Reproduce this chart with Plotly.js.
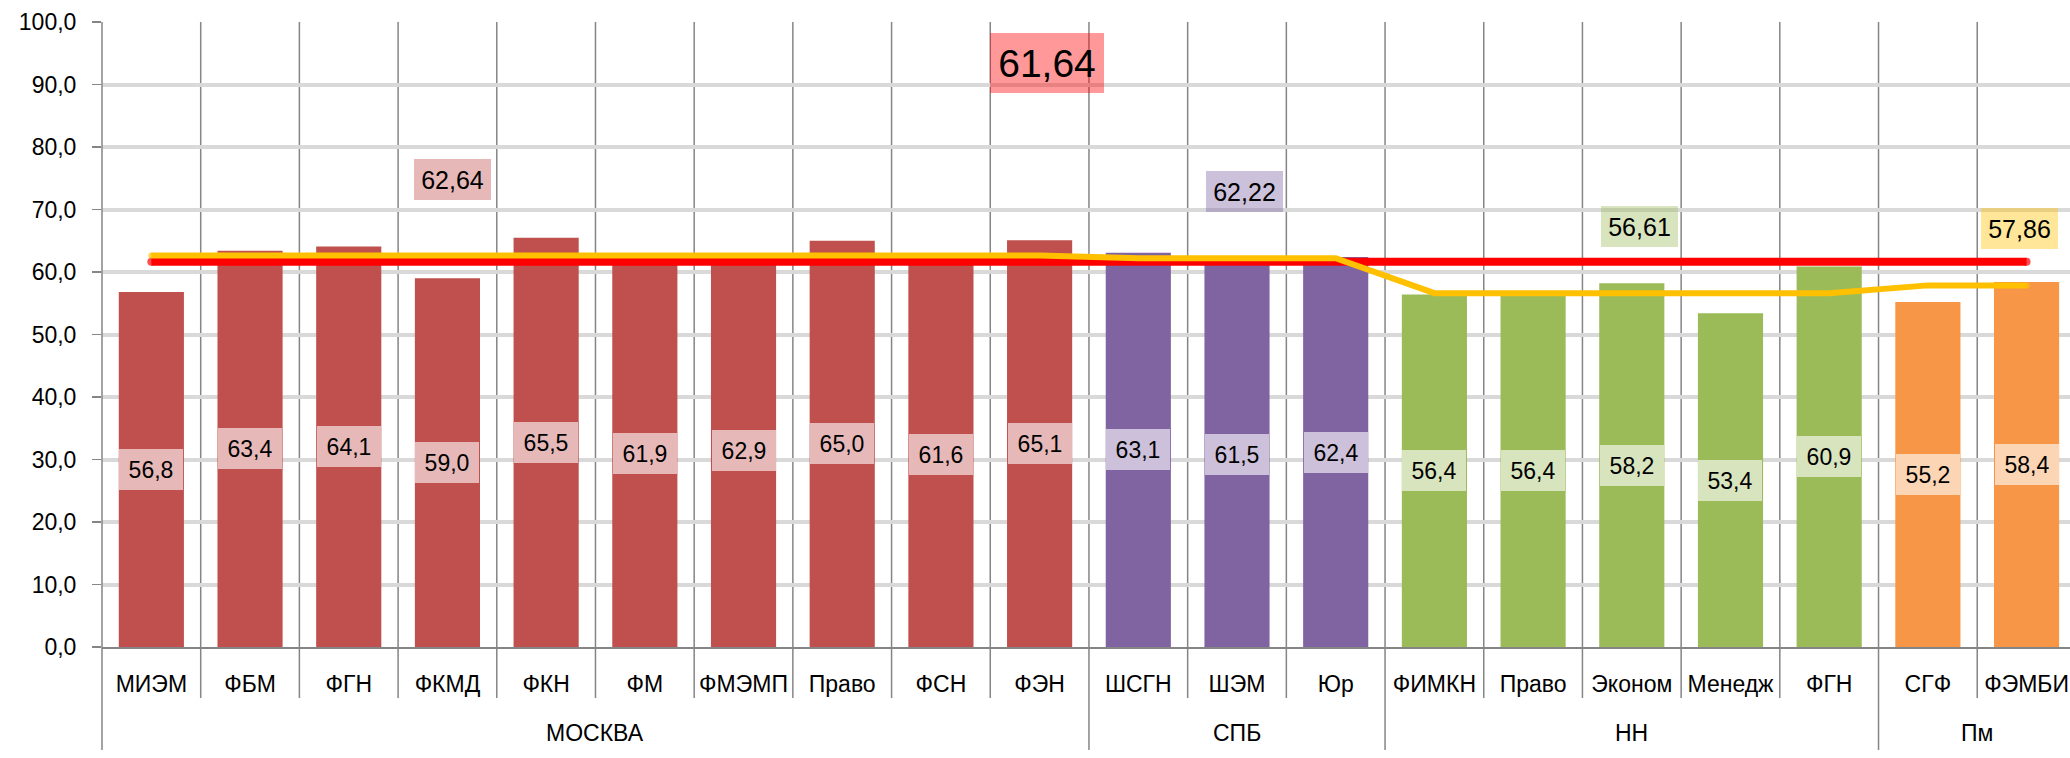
<!DOCTYPE html>
<html>
<head>
<meta charset="utf-8">
<script src="https://cdn.plot.ly/plotly-3.0.1.min.js"></script>
<style>
  html, body { margin: 0; padding: 0; background: #ffffff; overflow: hidden; }
  #chart { width: 2070px; height: 758px; }
</style>
</head>
<body>
<div id="chart"></div>
<script>
// ---------------- data ----------------
const groups = ['МОСКВА', 'СПБ', 'НН', 'Пм'];
const categories = ['МИЭМ', 'ФБМ', 'ФГН', 'ФКМД', 'ФКН', 'ФМ', 'ФМЭМП', 'Право', 'ФСН', 'ФЭН',
                    'ШСГН', 'ШЭМ', 'Юр',
                    'ФИМКН', 'Право', 'Эконом', 'Менедж', 'ФГН',
                    'СГФ', 'ФЭМБИ'];
const categoryGroup = [0, 0, 0, 0, 0, 0, 0, 0, 0, 0,
                       1, 1, 1,
                       2, 2, 2, 2, 2,
                       3, 3];
const values = [56.8, 63.4, 64.1, 59.0, 65.5, 61.9, 62.9, 65.0, 61.6, 65.1,
                63.1, 61.5, 62.4,
                56.4, 56.4, 58.2, 53.4, 60.9,
                55.2, 58.4];
const groupAverages = [62.64, 62.22, 56.61, 57.86];
const overallAverage = 61.64;

// ---------------- styles / placement ----------------
const groupColors = ['#C0504D', '#8064A2', '#9BBB59', '#F79646'];
const groupLabelFill = ['#E6B9B8', '#CCC0DA', '#D7E4BD', '#FCD5B5'];
const avgBoxFill = ['rgba(192,80,77,0.4)', 'rgba(128,100,162,0.4)', 'rgba(155,187,89,0.4)', 'rgba(255,192,0,0.4)'];
// where the average labels sit (category position, axis value)
const avgLabelPos = [[3.05, 74.75], [11.08, 72.9], [15.08, 67.3], [18.93, 67.0]];
const overallLabelPos = [9.07, 93.5];

const FONT = "'Liberation Sans', Arial, sans-serif";
const fmt = (v, d) => v.toFixed(d).replace('.', ',');

const xIdx = categories.map((_, i) => i);
const n = categories.length;

// bars
const barTrace = {
  type: 'bar',
  x: xIdx,
  y: values,
  width: 0.66,
  marker: { color: categoryGroup.map(g => groupColors[g]) },
  hoverinfo: 'skip',
  showlegend: false
};

// overall average line
const endMarkers = (size) => xIdx.map((i) => (i === 0 || i === n - 1) ? size : 0);
const overallTrace = {
  type: 'scatter', mode: 'lines+markers',
  x: xIdx,
  y: xIdx.map(() => overallAverage),
  line: { color: '#FF0000', width: 8 },
  marker: { color: '#FF0000', size: endMarkers(8), line: { width: 0 } },
  hoverinfo: 'skip', showlegend: false
};
// group average line
const groupTrace = {
  type: 'scatter', mode: 'lines+markers',
  x: xIdx,
  y: categoryGroup.map(g => groupAverages[g]),
  line: { color: '#FFC000', width: 6 },
  marker: { color: '#FFC000', size: endMarkers(6), line: { width: 0 } },
  hoverinfo: 'skip', showlegend: false
};

// annotations
const annotations = [];
values.forEach((v, i) => {
  annotations.push({
    x: i, y: v / 2, xref: 'x', yref: 'y',
    text: fmt(v, 1), showarrow: false,
    font: { family: FONT, size: 23, color: '#000000' },
    bgcolor: groupLabelFill[categoryGroup[i]],
    width: 64, height: 41, borderpad: 0, borderwidth: 0,
    xanchor: 'center', yanchor: 'middle'
  });
});
groupAverages.forEach((a, g) => {
  annotations.push({
    x: avgLabelPos[g][0], y: avgLabelPos[g][1], xref: 'x', yref: 'y',
    text: fmt(a, 2), showarrow: false,
    font: { family: FONT, size: 25, color: '#000000' },
    bgcolor: avgBoxFill[g],
    width: 77, height: 41, borderpad: 0, borderwidth: 0,
    xanchor: 'center', yanchor: 'middle'
  });
});
annotations.push({
  x: overallLabelPos[0], y: overallLabelPos[1], xref: 'x', yref: 'y',
  text: fmt(overallAverage, 2), showarrow: false,
  font: { family: FONT, size: 39, color: '#000000' },
  bgcolor: 'rgba(255,0,0,0.4)',
  width: 114, height: 60, borderpad: 0, borderwidth: 0,
  xanchor: 'center', yanchor: 'middle'
});
// group names under the axis
groups.forEach((name, g) => {
  const idx = xIdx.filter(i => categoryGroup[i] === g);
  const center = (idx[0] + idx[idx.length - 1]) / 2;
  annotations.push({
    x: center, y: 0, xref: 'x', yref: 'paper',
    text: name, showarrow: false,
    font: { family: FONT, size: 23, color: '#000000' },
    xanchor: 'center', yanchor: 'middle', yshift: -86
  });
});

// dividers: vertical grid between categories, ticks under the axis
const plotH = 625;
const shortTick = -51 / plotH;
const longTick = -103 / plotH;
const shapes = [];
for (let i = 0; i < n - 1; i++) {
  const isGroupEdge = categoryGroup[i] !== categoryGroup[i + 1];
  shapes.push({
    type: 'line', xref: 'x', yref: 'paper',
    x0: i + 0.5, x1: i + 0.5, y0: 1, y1: isGroupEdge ? longTick : shortTick,
    line: { color: '#858585', width: 1.5 }, layer: 'below'
  });
}
shapes.push({
  type: 'line', xref: 'paper', yref: 'paper',
  x0: 0, x1: 0, y0: 1, y1: longTick,
  line: { color: '#858585', width: 1.5 }, layer: 'above'
});

const layout = {
  width: 2070, height: 758,
  margin: { l: 102, r: 0, t: 22, b: 111, pad: 0 },
  paper_bgcolor: '#ffffff', plot_bgcolor: '#ffffff',
  separators: ', ',
  font: { family: FONT, size: 23, color: '#000000' },
  showlegend: false,
  bargap: 0.34,
  xaxis: {
    range: [-0.5, 19.44],
    tickmode: 'array', tickvals: xIdx, ticktext: categories,
    tickfont: { family: FONT, size: 23, color: '#000000' },
    ticks: '', showgrid: false, zeroline: false,
    showline: true, linecolor: '#858585', linewidth: 2,
    ticklabelstandoff: 15,
    fixedrange: true
  },
  yaxis: {
    range: [0, 100], tick0: 0, dtick: 10, tickformat: '.1f',
    tickfont: { family: FONT, size: 23, color: '#000000' },
    ticks: 'outside', ticklen: 9, tickwidth: 1.5, tickcolor: '#858585',
    showgrid: true, gridcolor: '#D9D9D9', gridwidth: 4,
    zeroline: false, showline: false,
    ticklabelstandoff: 11,
    fixedrange: true
  },
  annotations: annotations,
  shapes: shapes
};

Plotly.newPlot('chart', [barTrace, overallTrace, groupTrace], layout, { staticPlot: true, displayModeBar: false });
</script>
</body>
</html>
